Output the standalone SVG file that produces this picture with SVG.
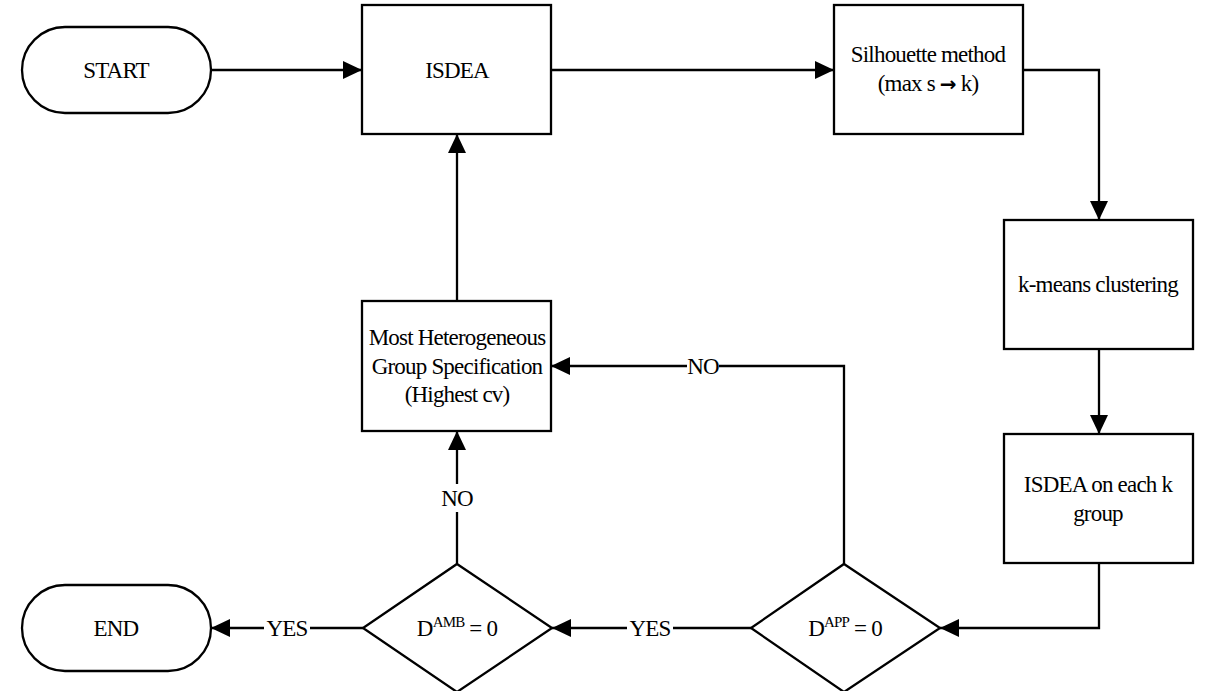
<svg xmlns="http://www.w3.org/2000/svg" width="1205" height="691" viewBox="0 0 1205 691">
<defs>
<marker id="arr" markerWidth="20" markerHeight="18" refX="19" refY="9" orient="auto" markerUnits="userSpaceOnUse"><path d="M0,0 L19,9 L0,18 z" fill="#000"/></marker>
</defs>
<style>
.shape{fill:#fff;stroke:#000;stroke-width:2.3}
.conn{fill:none;stroke:#000;stroke-width:2.3;marker-end:url(#arr)}
.t{font-family:"Liberation Serif","Times New Roman","DejaVu Serif",serif;font-size:23px;fill:#000;text-anchor:middle;letter-spacing:-0.8px}
.bg{fill:#fff;stroke:none}
.ar{font-family:"DejaVu Sans",sans-serif;font-weight:bold;font-size:20px}
</style>
<rect width="1205" height="691" fill="#fff"/>
<g id="connectors">
<path class="conn" d="M211,70 H362"/>
<path class="conn" d="M551,70 H834"/>
<path class="conn" d="M1023,70 H1099 V220"/>
<path class="conn" d="M1099,349 V434"/>
<path class="conn" d="M1099,563 V628 H940"/>
<path class="conn" d="M751,628 H552"/>
<path class="conn" d="M363,628 H211"/>
<path class="conn" d="M457,564 V431"/>
<path class="conn" d="M844,564 V366 H551"/>
<path class="conn" d="M457,301 V134"/>
<rect class="bg" x="627" y="614" width="46" height="28"/>
<text class="t" x="650" y="636">YES</text>
<rect class="bg" x="264" y="614" width="46" height="28"/>
<text class="t" x="287" y="636">YES</text>
<rect class="bg" x="440" y="484" width="34" height="28"/>
<text class="t" x="457" y="506">NO</text>
<rect class="bg" x="687" y="352" width="32" height="28"/>
<text class="t" x="703" y="374">NO</text>
</g>
<g id="start">
<rect class="shape" x="22" y="27" width="189" height="86" rx="43" ry="43"/>
<text class="t" x="116" y="78">START</text>
</g>
<g id="isdea">
<rect class="shape" x="362" y="5" width="189" height="129"/>
<text class="t" x="457" y="78">ISDEA</text>
</g>
<g id="silhouette">
<rect class="shape" x="834" y="5" width="189" height="129"/>
<text class="t" x="928" y="62">Silhouette method</text>
<text class="t" x="928" y="91">(max s <tspan class="ar">→</tspan> k)</text>
</g>
<g id="kmeans">
<rect class="shape" x="1004" y="220" width="189" height="129"/>
<text class="t" x="1098" y="292">k-means clustering</text>
</g>
<g id="isdea-each">
<rect class="shape" x="1004" y="434" width="189" height="129"/>
<text class="t" x="1098" y="492">ISDEA on each k</text>
<text class="t" x="1098" y="521">group</text>
</g>
<g id="dapp">
<polygon class="shape" points="844,564 940,628 844,692 751,628"/>
<text class="t" x="845" y="636">D<tspan dy="-9" font-size="15">APP</tspan><tspan dy="9"> = 0</tspan></text>
</g>
<g id="damb">
<polygon class="shape" points="457,564 552,628 457,692 363,628"/>
<text class="t" x="457" y="636">D<tspan dy="-9" font-size="15">AMB</tspan><tspan dy="9"> = 0</tspan></text>
</g>
<g id="end">
<rect class="shape" x="22" y="585" width="189" height="86" rx="43" ry="43"/>
<text class="t" x="116" y="636">END</text>
</g>
<g id="most-het">
<rect class="shape" x="362" y="301" width="189" height="130"/>
<text class="t" x="457" y="345">Most Heterogeneous</text>
<text class="t" x="457" y="374">Group Specification</text>
<text class="t" x="457" y="402">(Highest cv)</text>
</g>
</svg>
